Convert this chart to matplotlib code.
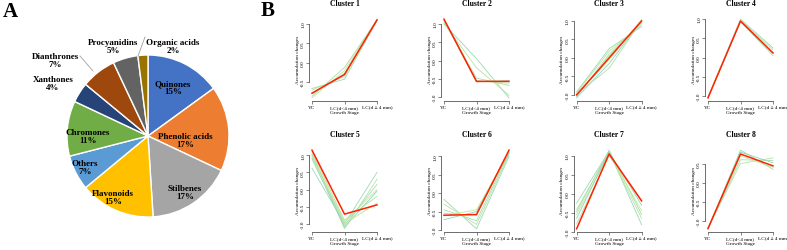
import numpy as np
import matplotlib
matplotlib.use("Agg")
import matplotlib.pyplot as plt
from matplotlib.ticker import FormatStrFormatter

plt.rcParams['font.family'] = ['Liberation Serif', 'DejaVu Serif']
plt.rcParams['axes.unicode_minus'] = False

# ---- panel A data ----
classes = ['Quinones', 'Phenolic acids', 'Stilbenes', 'Flavonoids', 'Others',
           'Chromones', 'Xanthones', 'Dianthrones', 'Procyanidins', 'Organic acids']
shares = [15, 17, 17, 15, 7, 11, 4, 7, 5, 2]
pie_colors = ['#4472C4', '#ED7D31', '#A5A5A5', '#FFC000', '#5B9BD5',
              '#70AD47', '#264478', '#9E480E', '#636363', '#997300']

# ---- panel B data ----
stages = ['YC', 'LC(d<4 mm)', 'LC(d \u2265 4 mm)']

center1 = [-0.78, -0.30, 1.10]
members1 = [[-0.66, -0.42, 1.08], [-0.70, -0.35, 1.10], [-0.86, -0.12, 1.10],
            [-0.90, -0.20, 1.12], [-0.80, -0.28, 1.09]]
center2 = [1.13, -0.57, -0.57]
members2 = [[1.00, 0.05, -1.02], [1.02, -0.20, -0.95], [1.08, -0.48, -0.68],
            [1.12, -0.55, -0.62], [1.10, -0.58, -0.55]]
center3 = [-1.00, 0.00, 1.00]
members3 = [[-0.92, 0.25, 0.85], [-0.95, 0.18, 0.90], [-1.05, 0.10, 0.95],
            [-1.00, -0.05, 1.05], [-1.08, -0.15, 1.00], [-0.98, -0.28, 1.02],
            [-1.02, 0.05, 0.98]]
center4 = [-1.05, 0.95, 0.12]
members4 = [[-1.03, 1.00, 0.25], [-1.05, 0.97, 0.20], [-1.02, 0.93, 0.05],
            [-1.04, 0.95, 0.10]]
center5 = [1.15, -0.72, -0.45]
members5 = [[0.62, -1.00, 0.50], [1.05, -1.15, 0.30], [1.00, -1.05, 0.15],
            [0.95, -0.95, 0.00], [0.90, -1.10, -0.05], [1.10, -0.90, -0.20],
            [1.02, -1.00, -0.40]]
center6 = [-0.60, -0.58, 1.17]
members6 = [[-0.17, -0.97, 1.00], [-0.30, -0.85, 1.05], [-0.45, -0.75, 1.10],
            [-0.62, -0.45, 1.12], [-0.72, -0.50, 1.08], [-0.55, -0.60, 1.15]]
center7 = [-0.93, 1.05, -0.19]
members7 = [[-0.25, 1.12, -0.82], [-0.42, 1.08, -0.65], [-0.48, 1.15, -0.55],
            [-0.55, 1.05, -0.45], [-0.65, 1.10, -0.30], [-0.80, 1.00, -0.20]]
center8 = [-1.19, 0.75, 0.44]
members8 = [[-1.20, 0.85, 0.35], [-1.18, 0.50, 0.65], [-1.20, 0.60, 0.58],
            [-1.19, 0.70, 0.40], [-1.20, 0.80, 0.52]]

centers = [center1, center2, center3, center4, center5, center6, center7, center8]
members = [members1, members2, members3, members4, members5, members6, members7, members8]

W, H = 787, 251
fig = plt.figure(figsize=(W / 100, H / 100), dpi=100)


def rect(left, top, right, bottom):
    return [left / W, 1 - bottom / H, (right - left) / W, (bottom - top) / H]


# ---- pie ----
cx, cy, r = 148, 137, 81
axp = fig.add_axes(rect(0, 0, 240, H))
axp.pie(shares, colors=pie_colors, startangle=90, counterclock=False,
        wedgeprops=dict(edgecolor='white', linewidth=1))
axp.set_aspect('auto')
axp.set_xlim(-cx / r, (240 - cx) / r)
axp.set_ylim(-(H - cy) / r, cy / r)
axp.axis('off')


def d(x, y):
    return (x - cx) / r, (cy - y) / r


label_px = [(173, 88), (185, 141), (185, 193), (113, 198), (85, 168),
            (88, 137), (53, 84), (55, 61), (113, 47), (173, 47)]
for name, val, (x, y) in zip(classes, shares, label_px):
    tx, ty = d(x, y)
    axp.text(tx, ty, f'{name}\n{val}%', ha='center', va='center',
             fontsize=6.5, fontweight='bold', linespacing=1.05)
for (x0, y0), (x1, y1) in [((80, 57), (93, 72)), ((145, 38), (138, 57))]:
    a, b = d(x0, y0)
    c, e = d(x1, y1)
    axp.plot([a, c], [b, e], color='#a0a0a0', lw=0.6)

fig.text(10 / W, 1 - 12 / H, 'A', fontsize=15, fontweight='bold', ha='center', va='center')
fig.text(268 / W, 1 - 11 / H, 'B', fontsize=15, fontweight='bold', ha='center', va='center')

# ---- cluster panels ----
lefts = [309.4, 441.4, 574, 705.4]
rows = [(17, 102), (148, 233)]
member_colors = ['#9ad9b4', '#b8e3a0', '#a6ddb0', '#c4e89c', '#92d3b8', '#aee0a8', '#bde49e']
x = [1, 2, 3]

for i in range(8):
    top, bottom = rows[i // 4]
    left = lefts[i % 4]
    ax = fig.add_axes(rect(left, top, left + 70.2, bottom))
    for j, m in enumerate(members[i]):
        ax.plot(x, m, color=member_colors[j % len(member_colors)], lw=0.6)
    ax.plot(x, centers[i], color='#ff2200', lw=1.1)
    ax.set_xlim(0.92, 3.08)
    ax.margins(y=0.04)
    lo, hi = ax.get_ylim()
    ticks = np.arange(np.ceil(lo / 0.5 - 1e-9) * 0.5, hi + 1e-9, 0.5)
    ax.set_yticks(ticks)
    ax.set_ylim(lo, hi)
    ax.yaxis.set_major_formatter(FormatStrFormatter('%.1f'))
    ax.set_xticks(x, stages)
    for s in ['top', 'right']:
        ax.spines[s].set_visible(False)
    ax.spines['left'].set_bounds(ticks[0], ticks[-1])
    ax.spines['bottom'].set_bounds(1, 3)
    for s in ['left', 'bottom']:
        ax.spines[s].set_color('#555555')
        ax.spines[s].set_linewidth(0.6)
    ax.tick_params(length=2, width=0.5, color='#555555', labelsize=3.8, pad=1)
    for lab in ax.get_yticklabels():
        lab.set_rotation(90)
        lab.set_va('center')
    ax.set_xlabel('Growth Stage', fontsize=3.8, labelpad=0.5)
    ax.set_ylabel('Accumulation changes', fontsize=3.8, labelpad=1)
    ax.set_title(f'Cluster {i + 1}', fontsize=5.5, fontweight='bold', pad=8)

fig.savefig('out.png', dpi=100)
